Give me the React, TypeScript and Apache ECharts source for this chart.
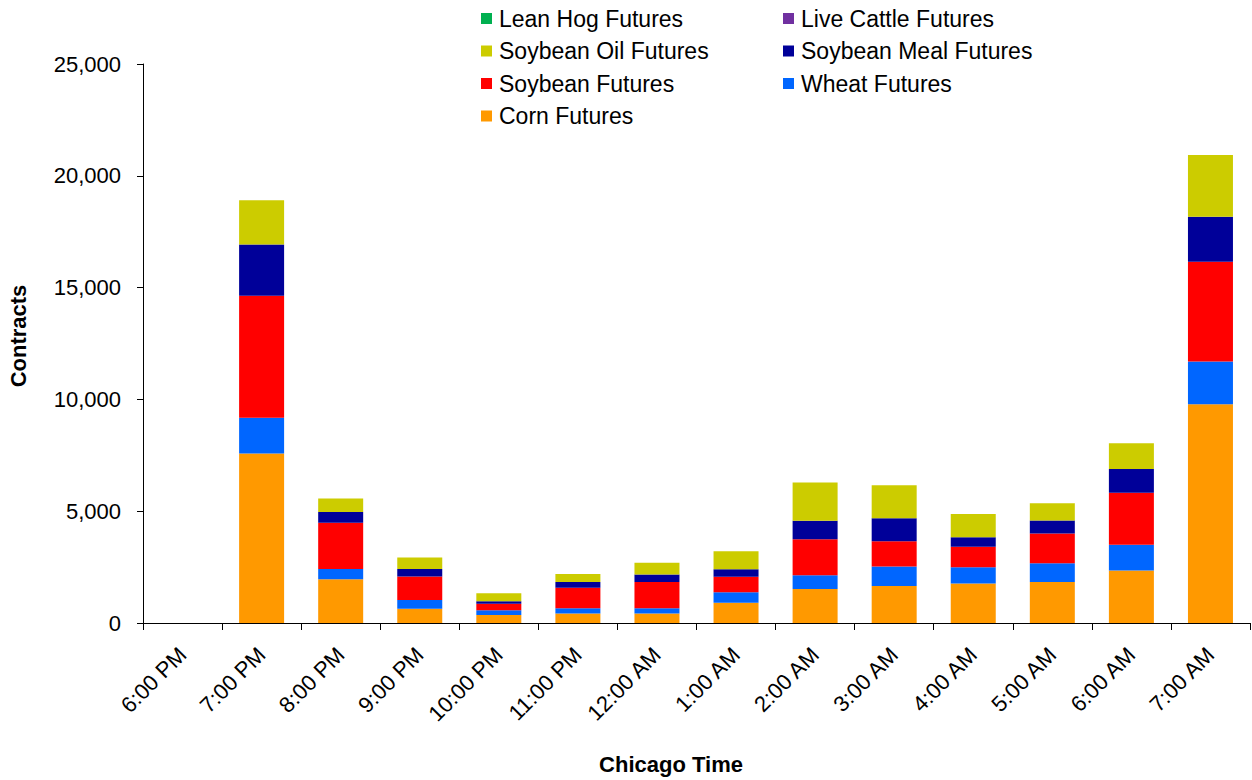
import React, { useEffect, useRef } from "react";
import * as echarts from "echarts";

const categories = [
  "6:00 PM", "7:00 PM", "8:00 PM", "9:00 PM", "10:00 PM", "11:00 PM", "12:00 AM",
  "1:00 AM", "2:00 AM", "3:00 AM", "4:00 AM", "5:00 AM", "6:00 AM", "7:00 AM",
];

const corn = [0, 7580, 1960, 640, 360, 420, 420, 910, 1520, 1650, 1770, 1830, 2350, 9780];
const wheat = [0, 1600, 450, 390, 210, 240, 240, 460, 610, 880, 720, 840, 1150, 1920];
const soybean = [0, 5450, 2070, 1050, 290, 920, 1170, 700, 1620, 1130, 920, 1330, 2330, 4460];
const soybeanMeal = [0, 2300, 480, 340, 110, 250, 340, 330, 820, 1030, 420, 580, 1060, 2010];
const soybeanOil = [0, 1980, 610, 510, 360, 360, 520, 810, 1710, 1470, 1050, 780, 1150, 2760];
const liveCattle = [0, 0, 0, 0, 0, 0, 0, 0, 0, 0, 0, 0, 0, 0];
const leanHog = [0, 0, 0, 0, 0, 0, 0, 0, 0, 0, 0, 0, 0, 0];

const yTicks = { min: 0, max: 25000, interval: 5000 };

const seriesDefs = [
  { name: "Corn Futures", data: corn, color: "#FF9900" },
  { name: "Wheat Futures", data: wheat, color: "#0066FF" },
  { name: "Soybean Futures", data: soybean, color: "#FF0000" },
  { name: "Soybean Meal Futures", data: soybeanMeal, color: "#000099" },
  { name: "Soybean Oil Futures", data: soybeanOil, color: "#CCCC00" },
  { name: "Live Cattle Futures", data: liveCattle, color: "#7030A0" },
  { name: "Lean Hog Futures", data: leanHog, color: "#00B050" },
];

const legendLeft = ["Lean Hog Futures", "Soybean Oil Futures", "Soybean Futures", "Corn Futures"];
const legendRight = ["Live Cattle Futures", "Soybean Meal Futures", "Wheat Futures"];

const FONT = "'Liberation Sans', Arial, Helvetica, sans-serif";

export default function App() {
  const ref = useRef<HTMLDivElement>(null);
  useEffect(() => {
    if (!ref.current) return;
    const chart = echarts.init(ref.current, undefined, { renderer: "svg" });
    const legendBase = {
      orient: "vertical",
      top: 7,
      padding: 0,
      itemWidth: 11,
      itemHeight: 11,
      itemGap: 9.5,
      icon: "rect",
      selectedMode: false,
      textStyle: {
        fontFamily: FONT,
        fontSize: 23,
        color: "#000",
        lineHeight: 23,
        padding: [0, 0, 0, 2],
      },
    };
    chart.setOption({
      animation: false,
      backgroundColor: "#fff",
      textStyle: { fontFamily: FONT },
      grid: { left: 143, right: 2, top: 64, bottom: 157, containLabel: false },
      legend: [
        { ...legendBase, left: 481, data: legendLeft },
        { ...legendBase, left: 783, data: legendRight },
      ],
      xAxis: {
        type: "category",
        data: categories,
        axisLine: { show: true, lineStyle: { color: "#000", width: 1 } },
        axisTick: { show: true, alignWithLabel: false, interval: 0, length: 7, lineStyle: { color: "#000" } },
        axisLabel: {
          interval: 0,
          rotate: 45,
          margin: 28,
          fontFamily: FONT,
          fontSize: 22,
          color: "#000",
        },
        splitLine: { show: false },
      },
      yAxis: {
        type: "value",
        min: yTicks.min,
        max: yTicks.max,
        interval: yTicks.interval,
        axisLine: { show: true, lineStyle: { color: "#000", width: 1 } },
        axisTick: { show: true, length: 6, lineStyle: { color: "#000" } },
        axisLabel: {
          margin: 22,
          fontFamily: FONT,
          fontSize: 22,
          color: "#000",
          formatter: (v: number) => v.toLocaleString("en-US"),
        },
        splitLine: { show: false },
      },
      graphic: [
        {
          type: "text",
          x: 18,
          y: 336,
          rotation: Math.PI / 2,
          style: {
            text: "Contracts",
            fontFamily: FONT,
            fontSize: 22,
            fontWeight: "bold",
            fill: "#000",
            align: "center",
            verticalAlign: "middle",
          },
        },
        {
          type: "text",
          x: 671,
          y: 764,
          style: {
            text: "Chicago Time",
            fontFamily: FONT,
            fontSize: 22,
            fontWeight: "bold",
            fill: "#000",
            align: "center",
            verticalAlign: "middle",
          },
        },
      ],
      series: seriesDefs.map((s) => ({
        name: s.name,
        type: "bar",
        stack: "total",
        barWidth: 45,
        data: s.data,
        itemStyle: { color: s.color },
        emphasis: { disabled: true },
      })),
    });
    return () => chart.dispose();
  }, []);
  return (
    <div
      ref={ref}
      style={{ position: "absolute", left: 0, top: 0, width: 1252, height: 780 }}
    />
  );
}
